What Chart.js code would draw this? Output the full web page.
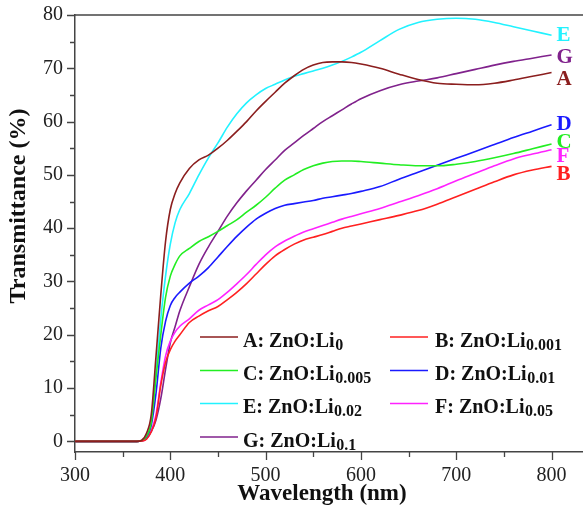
<!DOCTYPE html>
<html>
<head>
<meta charset="utf-8">
<script src="https://cdn.jsdelivr.net/npm/chart.js@4.4.1/dist/chart.umd.min.js"></script>
<style>
  html, body { margin: 0; padding: 0; background: #fff; }
  #wrap { width: 583px; height: 509px; position: relative; }
</style>
</head>
<body>
<div id="wrap"><canvas id="specChart"></canvas></div>
<script>
// wavelength grid (nm)
var wavelengths = [300, 340, 365, 370, 375, 380, 385, 390, 395, 400, 405, 410, 420, 430, 440, 450, 460, 470, 480, 490,
    500, 510, 520, 530, 540, 550, 560, 570, 580, 590, 600, 620, 640, 660, 680, 700, 720, 740, 760, 780, 800];

// transmittance (%) per sample
var tA = [0, 0, 0, 0.2, 1.5, 5, 16, 27.5, 37.5, 43.5, 46.5, 48.5, 51.2, 52.8, 53.7, 55, 56.5, 58.2, 60, 62,
    63.8, 65.5, 67.2, 68.6, 69.8, 70.6, 71.1, 71.2, 71.2, 71.1, 70.8, 70, 68.9, 67.9, 67.2, 67, 66.9, 67.2, 67.8, 68.5, 69.2];
var tB = [0, 0, 0, 0.05, 0.4, 1.8, 4.5, 10.5, 14.8, 17.2, 18.8, 20, 22.3, 23.5, 24.5, 25.3, 26.6, 28, 29.6, 31.4,
    33.2, 34.8, 36, 37, 37.8, 38.3, 38.8, 39.4, 40, 40.4, 40.8, 41.6, 42.4, 43.3, 44.5, 45.9, 47.3, 48.7, 50, 50.9, 51.6];
var tC = [0, 0, 0, 0.1, 1, 3.5, 12, 20, 27, 31, 33.2, 34.8, 36.2, 37.5, 38.4, 39.4, 40.5, 41.6, 43, 44.3,
    45.8, 47.5, 49, 50, 51, 51.7, 52.2, 52.5, 52.6, 52.6, 52.5, 52.2, 51.9, 51.7, 51.7, 52, 52.5, 53.2, 54, 54.9, 55.8];
var tD = [0, 0, 0, 0.1, 0.8, 3, 9, 17.5, 22.5, 25.5, 27, 28, 29.7, 31, 32.6, 34.6, 36.6, 38.5, 40.2, 41.7,
    42.8, 43.7, 44.3, 44.6, 44.9, 45.2, 45.6, 45.9, 46.2, 46.5, 46.9, 47.8, 49.2, 50.5, 51.8, 53.1, 54.4, 55.7, 57, 58.2, 59.4];
var tE = [0, 0, 0, 0.1, 1, 3.5, 13, 23, 31, 37, 41, 43.5, 46.5, 50, 53.2, 56, 59, 61.5, 63.5, 65,
    66.2, 67, 67.8, 68.5, 69, 69.5, 70, 70.6, 71.3, 72.1, 73, 75.2, 77.3, 78.6, 79.2, 79.4, 79.2, 78.6, 77.8, 77, 76.2];
var tF = [0, 0, 0, 0.05, 0.5, 2, 5, 11, 16, 18.8, 20.5, 21.6, 23, 24.6, 25.6, 26.6, 28, 29.6, 31.3, 33.2,
    35, 36.5, 37.6, 38.5, 39.3, 39.9, 40.5, 41.1, 41.7, 42.2, 42.7, 43.7, 44.9, 46.1, 47.4, 48.9, 50.3, 51.7, 53, 53.9, 54.7];
var tG = [0, 0, 0, 0.05, 0.5, 1.8, 4, 8, 13.5, 18.5, 21.5, 24.5, 29, 33.2, 36.5, 39.4, 42.3, 44.8, 47, 49,
    51, 52.8, 54.6, 56, 57.4, 58.7, 60, 61.1, 62.2, 63.3, 64.3, 65.8, 66.9, 67.6, 68.2, 69, 69.8, 70.6, 71.3, 71.9, 72.5];

var letters = ['A', 'B', 'C', 'D', 'E', 'F', 'G'];
var liSubs = ['0', '0.001', '0.005', '0.01', '0.02', '0.05', '0.1'];
var series = [tA, tB, tC, tD, tE, tF, tG];
var colors = ['#8b1e1e', '#ff2020', '#22ee22', '#1a1aff', '#22f2ff', '#ff22ff', '#80228c'];

var xTicks = [300, 400, 500, 600, 700, 800];
var yTicks = [0, 10, 20, 30, 40, 50, 60, 70, 80];

// where the end letters sit (data units, y)
var endLabelY = [67.8, 50.0, 56.1, 59.5, 76.1, 53.4, 72.1];

var SERIF = '"Liberation Serif", "Times New Roman", serif';

var decorPlugin = {
    id: 'decor',
    afterDraw: function (chart) {
        var ctx = chart.ctx;
        var area = chart.chartArea;
        var xs = chart.scales.x, ys = chart.scales.y;
        ctx.save();

        // top frame line
        ctx.strokeStyle = '#444';
        ctx.lineWidth = 1.5;
        ctx.beginPath();
        ctx.moveTo(area.left, area.top);
        ctx.lineTo(area.right, area.top);
        ctx.stroke();

        // outward ticks, major + minor
        ctx.lineWidth = 1.3;
        ctx.beginPath();
        for (var v = 300; v <= 800; v += 50) {
            var px = Math.round(xs.getPixelForValue(v)) + 0.5;
            var len = (v % 100 === 0) ? 8 : 5;
            ctx.moveTo(px, area.bottom);
            ctx.lineTo(px, area.bottom + len);
        }
        for (var w = 0; w <= 80; w += 5) {
            var py = Math.round(ys.getPixelForValue(w)) + 0.5;
            var l2 = (w % 10 === 0) ? 8 : 5;
            ctx.moveTo(area.left, py);
            ctx.lineTo(area.left - l2, py);
        }
        ctx.stroke();

        // axis titles
        ctx.fillStyle = '#111';
        ctx.font = 'bold 23px ' + SERIF;
        ctx.textAlign = 'center';
        ctx.textBaseline = 'alphabetic';
        ctx.fillText('Wavelength (nm)', 322, 500);

        ctx.save();
        ctx.translate(25, 206);
        ctx.rotate(-Math.PI / 2);
        ctx.font = 'bold 24px ' + SERIF;
        ctx.fillText('Transmittance (%)', 0, 0);
        ctx.restore();

        // end letters
        ctx.font = 'bold 21px ' + SERIF;
        ctx.textAlign = 'left';
        ctx.textBaseline = 'middle';
        letters.forEach(function (L, i) {
            ctx.fillStyle = colors[i];
            ctx.fillText(L, xs.getPixelForValue(800) + 5, ys.getPixelForValue(endLabelY[i]));
        });

        // legend with subscripts
        var colLine = [200, 390], colText = [243, 435];
        var rowY = [337, 370.5, 403.5, 437];
        ctx.textBaseline = 'alphabetic';
        letters.forEach(function (L, i) {
            var c = i % 2, r = Math.floor(i / 2);
            ctx.strokeStyle = colors[i];
            ctx.lineWidth = 1.5;
            ctx.beginPath();
            ctx.moveTo(colLine[c], rowY[r]);
            ctx.lineTo(colLine[c] + 38, rowY[r]);
            ctx.stroke();

            var base = rowY[r] + 9.5;
            ctx.fillStyle = '#111';
            ctx.font = 'bold 20px ' + SERIF;
            var main = L + ': ZnO:Li';
            ctx.fillText(main, colText[c], base);
            var wMain = ctx.measureText(main).width;
            ctx.font = 'bold 16px ' + SERIF;
            ctx.fillText(liSubs[i], colText[c] + wMain + 0.5, base + 3);
        });

        ctx.restore();
    }
};

var datasets = series.map(function (vals, i) {
    return {
        label: letters[i] + ': ZnO:Li' + liSubs[i],
        data: wavelengths.map(function (x, k) { return { x: x, y: vals[k] }; }),
        borderColor: colors[i],
        backgroundColor: colors[i],
        borderWidth: 1.6,
        pointRadius: 0,
        fill: false,
        cubicInterpolationMode: 'monotone'
    };
});

new Chart(document.getElementById('specChart'), {
    type: 'line',
    data: { datasets: datasets },
    options: {
        responsive: true,
        maintainAspectRatio: false,
        animation: false,
        layout: { padding: { top: 15, right: 0, left: 0, bottom: 0 } },
        plugins: {
            legend: { display: false },
            tooltip: { enabled: false }
        },
        scales: {
            x: {
                type: 'linear',
                min: 300,
                max: 833,
                afterFit: function (s) {
                    s.height = 57;
                    s.paddingLeft = 0;
                    s.paddingRight = 0;
                },
                afterBuildTicks: function (s) { s.ticks = xTicks.map(function (v) { return { value: v }; }); },
                grid: { display: false, drawTicks: false },
                border: { display: true, color: '#444', width: 1.5 },
                ticks: {
                    padding: 12,
                    maxRotation: 0,
                    color: '#222',
                    font: { family: SERIF, size: 20 }
                }
            },
            y: {
                min: -2,
                max: 80,
                afterFit: function (s) {
                    s.width = 75;
                    s.paddingTop = 0;
                    s.paddingBottom = 0;
                },
                afterBuildTicks: function (s) { s.ticks = yTicks.map(function (v) { return { value: v }; }); },
                grid: { display: false, drawTicks: false },
                border: { display: true, color: '#444', width: 1.5 },
                ticks: {
                    padding: 12,
                    color: '#222',
                    font: { family: SERIF, size: 20 }
                }
            }
        }
    },
    plugins: [decorPlugin]
});
</script>
</body>
</html>
